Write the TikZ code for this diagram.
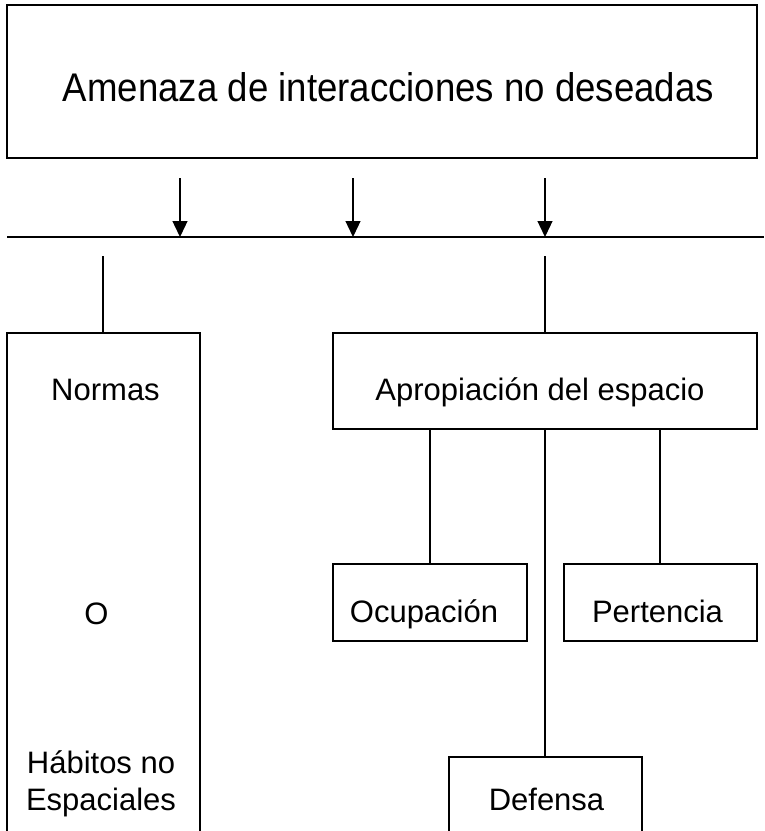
\documentclass[tikz,border=0pt]{standalone}
\usepackage{fontspec}
\setmainfont{Liberation Sans}
\usetikzlibrary{arrows.meta}
\tikzset{
  box/.style={draw=black, line width=1.3pt, inner sep=0pt, outer sep=0pt, anchor=north west},
  lbl/.style={inner sep=0pt, outer sep=0pt, anchor=base, font=\fontsize{31}{36}\selectfont},
  conn/.style={draw=black, line width=1.3pt},
  arr/.style={draw=black, line width=1.3pt, -{Triangle[length=16pt,width=15pt]}},
}
\begin{document}
\begin{tikzpicture}[x=1pt,y=-1pt]
\useasboundingbox (0,0) rectangle (764,831);
\clip (0,0) rectangle (764,831);
\fill[white] (0,0) rectangle (764,831);
% boxes
\node[box, minimum width=750pt, minimum height=153pt] (top) at (7,5) {};
\node[box, minimum width=193pt, minimum height=540pt] (norm) at (7,333) {};
\node[box, minimum width=424pt, minimum height=96pt] (aprop) at (333,333) {};
\node[box, minimum width=194pt, minimum height=77pt] (ocup) at (333,564) {};
\node[box, minimum width=193pt, minimum height=77pt] (pert) at (564,564) {};
\node[box, minimum width=193pt, minimum height=120pt] (def) at (449,757) {};
% texts
\node[lbl, font=\fontsize{40}{48}\selectfont] (ttop) at (388.5,101.7) {\scalebox{0.915}[1]{Amenaza de interacciones no deseadas}};
\node[lbl] (tnorm) at (105.5,400) {Normas};
\node[lbl] (to) at (96.5,624) {O};
\node[lbl] (thab) at (101,773) {Hábitos no};
\node[lbl] (tesp) at (101,810) {Espaciales};
\node[lbl] (taprop) at (540,400) {Apropiación del espacio};
\node[lbl] (tocup) at (424,622.5) {Ocupación};
\node[lbl] (tpert) at (657.5,622.5) {Pertencia};
\node[lbl] (tdef) at (546.5,810) {Defensa};
% horizontal line and arrows
\coordinate (hl) at (7,237);
\coordinate (hr) at (764,237);
\draw[line width=2pt] (hl) -- (hr);
\coordinate (a1) at (180,178);
\coordinate (a2) at (353,178);
\coordinate (a3) at (545,178);
\draw[arr] (a1) -- (a1 |- hl);
\draw[arr] (a2) -- (a2 |- hl);
\draw[arr] (a3) -- (a3 |- hl);
% vertical connectors
\coordinate (v1) at (103,256);
\coordinate (v2) at (545,256);
\coordinate (c1) at (430,0);
\coordinate (c2) at (545,0);
\coordinate (c3) at (660,0);
\draw[conn] (v1) -- (v1 |- norm.north);
\draw[conn] (v2) -- (v2 |- aprop.north);
\draw[conn] (c1 |- aprop.south) -- (c1 |- ocup.north);
\draw[conn] (c2 |- aprop.south) -- (c2 |- def.north);
\draw[conn] (c3 |- aprop.south) -- (c3 |- pert.north);
\end{tikzpicture}
\end{document}
